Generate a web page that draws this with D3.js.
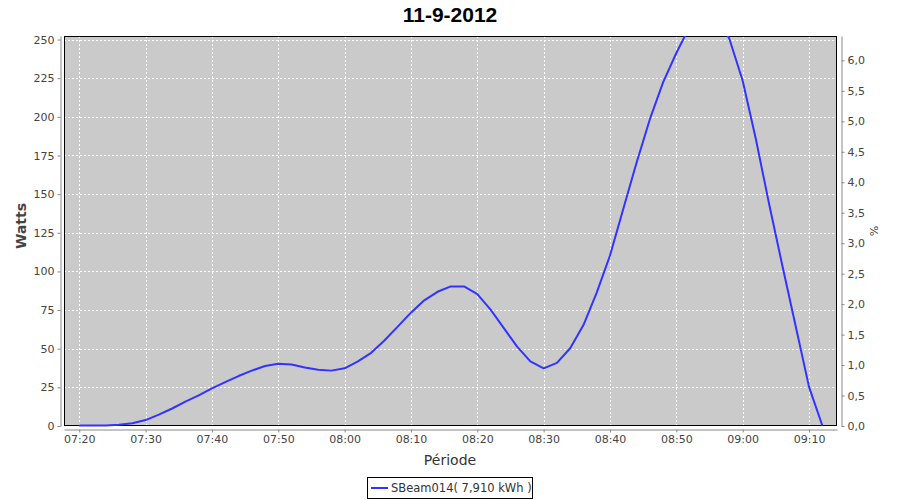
<!DOCTYPE html>
<html><head><meta charset="utf-8">
<script src="https://cdn.jsdelivr.net/npm/d3@7"></script>
<style>body{margin:0;background:#fff}svg{display:block}</style>
</head><body>
<svg id="c" width="900" height="500"></svg>
<script>
const title = "11-9-2012";
const times = ["07:20","07:22","07:24","07:26","07:28","07:30","07:32","07:34","07:36","07:38",
  "07:40","07:42","07:44","07:46","07:48","07:50","07:52","07:54","07:56","07:58",
  "08:00","08:02","08:04","08:06","08:08","08:10","08:12","08:14","08:16","08:18",
  "08:20","08:22","08:24","08:26","08:28","08:30","08:32","08:34","08:36","08:38",
  "08:40","08:42","08:44","08:46","08:48","08:50","08:52","08:54","08:56","08:58",
  "09:00","09:02","09:04","09:06","09:08","09:10","09:12"];
const watts = [0,0,0,0.5,1.5,3.5,7,11,15.5,19.5,
  24,28,32,35.5,38.5,40,39.5,37.5,36,35.5,
  37,41.5,47,55,64,73,81,86.5,90,90,
  85,75,63,51,41.5,37,40.5,50,65,86,
  110,140,170,198,222,241,258,270,268,250,
  223,185,143,103,64,25,0];
const xDomain = ["07:17:42","09:14:13"];
const xTicks = ["07:20","07:30","07:40","07:50","08:00","08:10","08:20","08:30","08:40","08:50","09:00","09:10"];
const wattsDomain = [0, 252.3];
const wattsTicks = [0,25,50,75,100,125,150,175,200,225,250];
const pctDomain = [0, 6.4];
const pctTicks = [0,0.5,1,1.5,2,2.5,3,3.5,4,4.5,5,5.5,6];
const seriesName = "SBeam014( 7,910 kWh )";

const parse = d3.timeParse("%Y-%m-%d %H:%M:%S");
const toDate = t => parse("2012-09-11 " + (t.length === 5 ? t + ":00" : t));

const L = 64, R = 837, T = 36, B = 426;
const svg = d3.select("#c");
const x = d3.scaleTime().domain(xDomain.map(toDate)).range([L, R]);
const y = d3.scaleLinear().domain(wattsDomain).range([B, T]);
const y2 = d3.scaleLinear().domain(pctDomain).range([B, T]);
const font = "'DejaVu Sans', Verdana, sans-serif";
const axisCol = "#888";
const textCol = "#444";

svg.append("defs").append("clipPath").attr("id", "clip")
  .append("rect").attr("x", L).attr("y", T).attr("width", R - L).attr("height", B - T + 1.5);

// title
svg.append("text").attr("x", 450).attr("y", 22).attr("text-anchor", "middle")
  .attr("font-family", "'Liberation Sans', Arial, sans-serif").attr("font-weight", "bold")
  .attr("font-size", 21).attr("fill", "#000").text(title);

// plot background
svg.append("rect").attr("x", L).attr("y", T).attr("width", R - L).attr("height", B - T).attr("fill", "#cacaca");

// gridlines
const g = svg.append("g");
g.selectAll(".vg").data(xTicks).join("line")
  .attr("x1", d => Math.round(x(toDate(d))) + 0.5).attr("x2", d => Math.round(x(toDate(d))) + 0.5)
  .attr("y1", T).attr("y2", B).attr("stroke", "#fff").attr("stroke-dasharray", "2,2");
g.selectAll(".hg").data(wattsTicks.filter(d => d > 0)).join("line")
  .attr("y1", d => Math.round(y(d)) + 0.5).attr("y2", d => Math.round(y(d)) + 0.5)
  .attr("x1", L).attr("x2", R).attr("stroke", "#fff").attr("stroke-dasharray", "2,2");

// plot border
svg.append("rect").attr("x", L + 0.5).attr("y", T + 0.5).attr("width", R - L - 1).attr("height", B - T - 1)
  .attr("fill", "none").attr("stroke", "#000").attr("stroke-width", 1);

// line
const line = d3.line().x((d, i) => x(toDate(times[i]))).y(d => y(d) - 0.5);
svg.append("path").datum(watts).attr("d", line).attr("fill", "none").attr("clip-path", "url(#clip)")
  .attr("stroke", "#3333ff").attr("stroke-width", 2).attr("stroke-linejoin", "round");

function style(sel) {
  sel.select(".domain").attr("stroke", axisCol);
  sel.selectAll(".tick line").attr("stroke", axisCol);
  sel.selectAll(".tick text").attr("fill", textCol).attr("font-family", font).attr("font-size", 11);
}

// left axis
const ax1 = svg.append("g").attr("transform", `translate(${L - 3.5},0)`)
  .call(d3.axisLeft(y).tickValues(wattsTicks).tickSize(3).tickSizeOuter(0).tickPadding(3).tickFormat(d3.format("d")));
style(ax1);

// right axis
const ax2 = svg.append("g").attr("transform", `translate(${R + 4.5},0)`)
  .call(d3.axisRight(y2).tickValues(pctTicks).tickSize(3).tickSizeOuter(0).tickPadding(3)
    .tickFormat(d => d3.format(".1f")(d).replace(".", ",")));
style(ax2);

// bottom axis
const ax3 = svg.append("g").attr("transform", `translate(0,${B + 3.5})`)
  .call(d3.axisBottom(x).tickValues(xTicks.map(toDate)).tickSize(3).tickSizeOuter(0).tickPadding(3)
    .tickFormat(d3.timeFormat("%H:%M")));
style(ax3);

// axis labels
svg.append("text").attr("transform", `translate(26,226) rotate(-90)`).attr("text-anchor", "middle")
  .attr("font-family", font).attr("font-weight", "bold").attr("font-size", 14).attr("fill", textCol).text("Watts");
svg.append("text").attr("x", 450).attr("y", 465).attr("text-anchor", "middle")
  .attr("font-family", font).attr("font-size", 14).attr("fill", "#333").text("Période");
svg.append("text").attr("transform", `translate(870,${(T + B) / 2}) rotate(90)`).attr("text-anchor", "middle")
  .attr("font-family", font).attr("font-size", 11).attr("fill", textCol).text("%");

// legend
const lg = svg.append("g");
lg.append("rect").attr("x", 367.5).attr("y", 477.5).attr("width", 165).attr("height", 21)
  .attr("fill", "#fff").attr("stroke", "#000");
lg.append("line").attr("x1", 371).attr("x2", 388).attr("y1", 488).attr("y2", 488)
  .attr("stroke", "#3333ff").attr("stroke-width", 2);
lg.append("text").attr("x", 391).attr("y", 492).attr("font-family", font).attr("font-size", 11.5)
  .attr("fill", "#333").text(seriesName);
</script>
</body></html>
